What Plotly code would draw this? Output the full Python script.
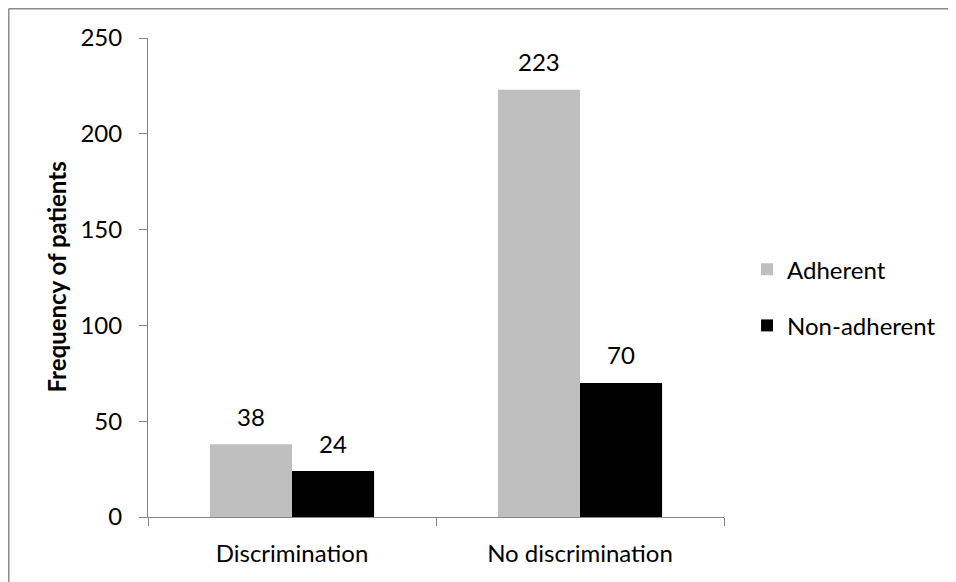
import plotly.graph_objects as go

categories = ["Discrimination", "No discrimination"]
adherent = [38, 223]
non_adherent = [24, 70]
series_names = ["Adherent", "Non-adherent"]
y_ticks = [0, 50, 100, 150, 200, 250]

FONT = "Lato, Open Sans, sans-serif"

W, H = 956, 582
L, T = 140, 30
PW, PH = 576, 479
R, B = W - L - PW, H - T - PH

fig = go.Figure()
fig.add_trace(go.Bar(x=categories, y=adherent, name=series_names[0],
                     marker=dict(color="#BFBFBF", line=dict(width=0)),
                     legendgroup="a"))
fig.add_trace(go.Bar(x=categories, y=non_adherent, name=series_names[1],
                     marker=dict(color="#000000", line=dict(width=0)),
                     legendgroup="b"))

# data labels
for i, c in enumerate(categories):
    fig.add_annotation(x=c, y=adherent[i], text=str(adherent[i]), showarrow=False,
                       xshift=-41, yshift=28, yanchor="middle",
                       font=dict(size=24, color="black", family=FONT))
    fig.add_annotation(x=c, y=non_adherent[i], text=str(non_adherent[i]), showarrow=False,
                       xshift=41, yshift=28, yanchor="middle",
                       font=dict(size=24, color="black", family=FONT))

# y-axis title
fig.add_annotation(xref="paper", yref="paper", x=(48 - L) / PW, y=0.5,
                   text="<b>Frequency of patients</b>", textangle=-90,
                   showarrow=False, xanchor="center", yanchor="middle",
                   font=dict(size=24, color="black", family=FONT))

# chart border (left and top edges)
bx = (0.75 - L) / PW
by = 1 + (T - 0.75) / PH
fig.add_shape(type="line", xref="paper", yref="paper", x0=bx, x1=(W - L) / PW,
              y0=by, y1=by, line=dict(color="#8C8C8C", width=1.5))
fig.add_shape(type="line", xref="paper", yref="paper", x0=bx, x1=bx,
              y0=-B / PH, y1=by, line=dict(color="#8C8C8C", width=1.5))

fig.update_layout(
    width=W, height=H,
    margin=dict(l=L, r=R, t=T, b=B, autoexpand=False),
    paper_bgcolor="white", plot_bgcolor="white",
    barmode="group", bargap=0.43, bargroupgap=0,
    font=dict(family=FONT, size=24, color="black"),
    showlegend=True,
    legend=dict(x=1.04, y=0.458, xanchor="left", yanchor="middle",
                font=dict(size=24, color="black", family=FONT),
                tracegroupgap=22, itemwidth=30, bgcolor="rgba(0,0,0,0)"),
    xaxis=dict(showline=True, linecolor="#868686", linewidth=1,
               ticks="outside", ticklen=8, tickcolor="#868686", tickwidth=1,
               tickson="boundaries", showgrid=False, zeroline=False,
               ticklabelstandoff=15),
    yaxis=dict(range=[0, 250], tickvals=y_ticks, showline=True,
               linecolor="#868686", linewidth=1, ticks="outside", ticklen=8,
               tickcolor="#868686", tickwidth=1, showgrid=False, zeroline=False,
               ticklabelstandoff=12),
)

fig.write_html("out.html")
